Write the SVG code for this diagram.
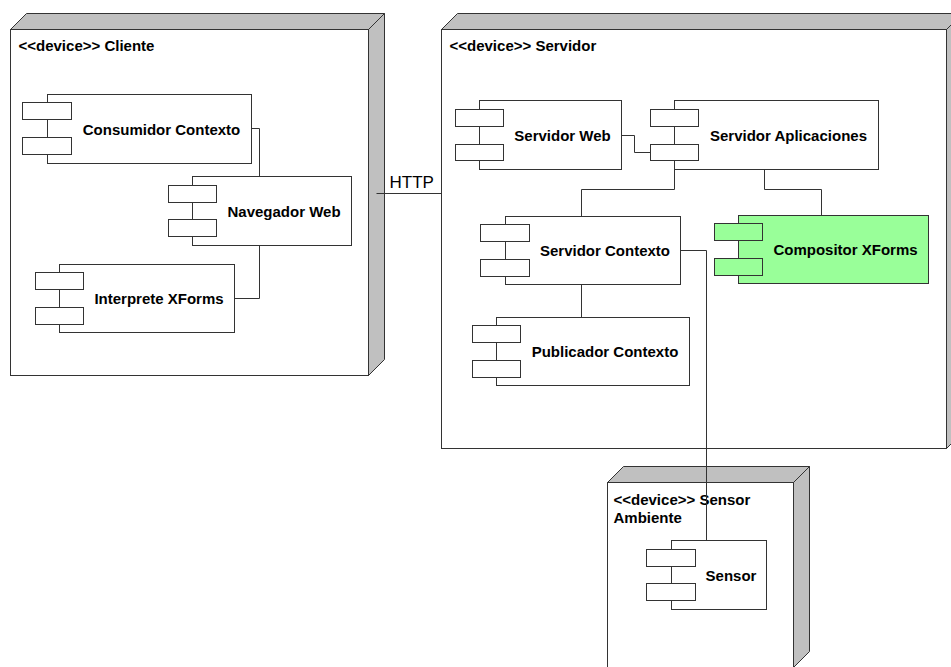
<svg xmlns="http://www.w3.org/2000/svg" width="951" height="667" viewBox="0 0 951 667">
<style>
.face{fill:#fff;stroke:#333;stroke-width:1}
.side{fill:#c0c0c0;stroke:#333;stroke-width:1;stroke-linejoin:miter}
.comp{fill:#fff;stroke:#333;stroke-width:1}
.green{fill:#99ff99}
.lbl{font-family:"Liberation Sans",Arial,sans-serif;font-weight:bold;font-size:15px;fill:#000}
.dev{font-family:"Liberation Sans",Arial,sans-serif;font-weight:bold;font-size:15px;fill:#000}
.conn{fill:none;stroke:#333;stroke-width:1}
.http{font-family:"Liberation Sans",Arial,sans-serif;font-size:17px;fill:#000}
</style>
<rect x="0" y="0" width="951" height="667" fill="#fff"/>
<g transform="translate(0.5,0.5)">
<g id="node-cliente">
<polygon class="side" points="10,29 26,13 384,13 368,29"/>
<polygon class="side" points="368,29 384,13 384,359 368,375"/>
<rect class="face" x="10" y="29" width="358" height="346"/>
<text class="dev" x="18" y="50">&lt;&lt;device&gt;&gt; Cliente</text>
</g>
<g id="node-servidor">
<polygon class="side" points="441,29 457,13 962,13 946,29"/>
<polygon class="side" points="946,29 962,13 962,432 946,448"/>
<rect class="face" x="441" y="29" width="505" height="419"/>
<text class="dev" x="449" y="50">&lt;&lt;device&gt;&gt; Servidor</text>
</g>
<g id="node-sensor-ambiente">
<polygon class="side" points="607,482 623,466 809,466 793,482"/>
<polygon class="side" points="793,482 809,466 809,651 793,667"/>
<rect class="face" x="607" y="482" width="186" height="190"/>
<text class="dev" x="613" y="504">&lt;&lt;device&gt;&gt; Sensor</text>
<text class="dev" x="613" y="522">Ambiente</text>
</g>
<g id="comp-consumidor">
<rect class="comp" x="47" y="94" width="204" height="69"/>
<rect class="comp" x="22" y="102" width="49" height="17"/>
<rect class="comp" x="22" y="137" width="49" height="17"/>
<text class="lbl" x="161" y="134" text-anchor="middle">Consumidor Contexto</text>
</g>
<g id="comp-navegador">
<rect class="comp" x="192" y="176" width="159" height="69"/>
<rect class="comp" x="168" y="185" width="48" height="17"/>
<rect class="comp" x="168" y="219" width="48" height="17"/>
<text class="lbl" x="283.5" y="216" text-anchor="middle">Navegador Web</text>
</g>
<g id="comp-interprete">
<rect class="comp" x="59" y="264" width="175" height="68"/>
<rect class="comp" x="35" y="272" width="48" height="17"/>
<rect class="comp" x="35" y="307" width="48" height="17"/>
<text class="lbl" x="158.5" y="303" text-anchor="middle">Interprete XForms</text>
</g>
<g id="comp-servidor-web">
<rect class="comp" x="479" y="100" width="142" height="69"/>
<rect class="comp" x="455" y="109" width="48" height="17"/>
<rect class="comp" x="455" y="144" width="48" height="16"/>
<text class="lbl" x="562" y="140" text-anchor="middle">Servidor Web</text>
</g>
<g id="comp-servidor-aplicaciones">
<rect class="comp" x="674" y="100" width="204" height="69"/>
<rect class="comp" x="650" y="109" width="48" height="17"/>
<rect class="comp" x="650" y="144" width="48" height="16"/>
<text class="lbl" x="788" y="140" text-anchor="middle">Servidor Aplicaciones</text>
</g>
<g id="comp-servidor-contexto">
<rect class="comp" x="505" y="216" width="175" height="68"/>
<rect class="comp" x="480" y="224" width="49" height="17"/>
<rect class="comp" x="480" y="259" width="49" height="17"/>
<text class="lbl" x="604.5" y="255" text-anchor="middle">Servidor Contexto</text>
</g>
<g id="comp-compositor">
<rect class="comp green" x="738" y="215" width="190" height="68"/>
<rect class="comp green" x="714" y="223" width="48" height="17"/>
<rect class="comp green" x="714" y="258" width="48" height="17"/>
<text class="lbl" x="845" y="254" text-anchor="middle">Compositor XForms</text>
</g>
<g id="comp-publicador">
<rect class="comp" x="496" y="317" width="193" height="68"/>
<rect class="comp" x="472" y="325" width="48" height="17"/>
<rect class="comp" x="472" y="360" width="48" height="17"/>
<text class="lbl" x="604.5" y="356" text-anchor="middle">Publicador Contexto</text>
</g>
<g id="comp-sensor">
<rect class="comp" x="671" y="540" width="95" height="69"/>
<rect class="comp" x="646" y="549" width="49" height="17"/>
<rect class="comp" x="646" y="583" width="49" height="17"/>
<text class="lbl" x="730.5" y="580" text-anchor="middle">Sensor</text>
</g>
<g id="connectors">
<polyline class="conn" points="251,128 259,128 259,176"/>
<polyline class="conn" points="259,245 259,298 234,298"/>
<line class="conn" x1="376" y1="193" x2="441" y2="193"/>
<text class="http" x="389" y="187">HTTP</text>
<polyline class="conn" points="621,135 634,135 634,152 650,152"/>
<polyline class="conn" points="674,169 674,189 581,189 581,216"/>
<polyline class="conn" points="764,169 764,189 821,189 821,215"/>
<line class="conn" x1="581" y1="284" x2="581" y2="317"/>
<polyline class="conn" points="680,250 706,250 706,540"/>
</g>
</g>
</svg>
